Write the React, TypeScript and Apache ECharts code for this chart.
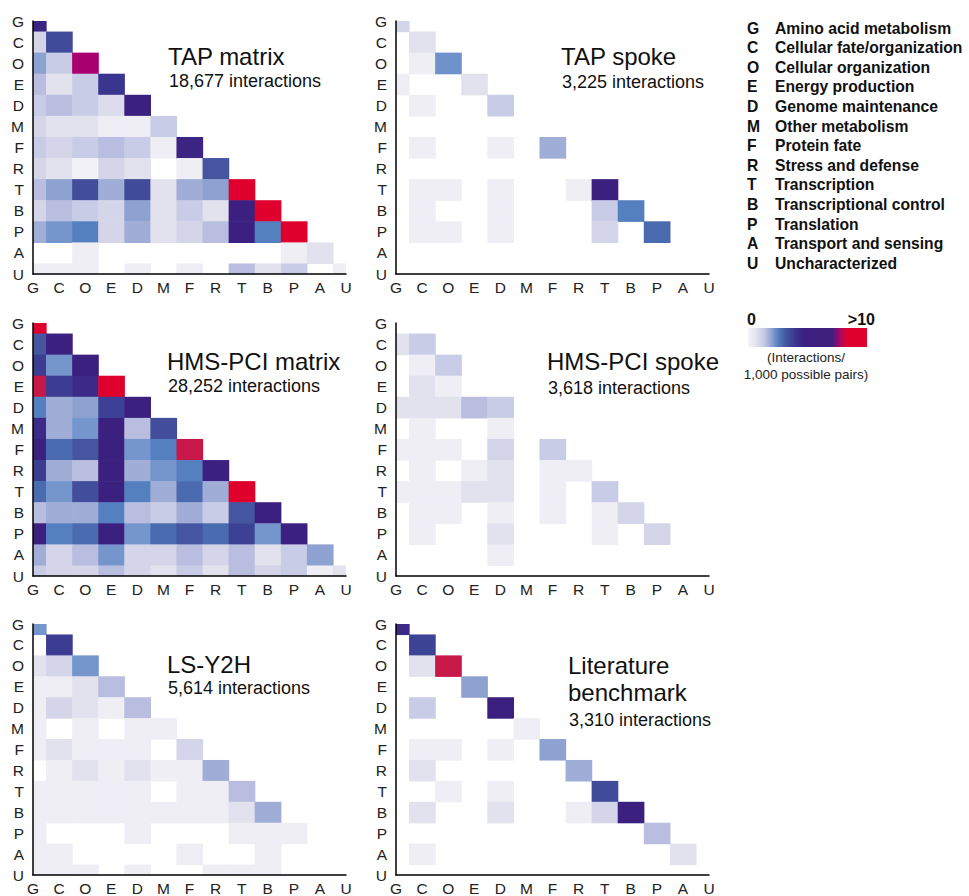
import React, { useEffect, useRef } from "react";
import * as echarts from "echarts";

const CATS = ["G", "C", "O", "E", "D", "M", "F", "R", "T", "B", "P", "A", "U"];
const CAT_NAMES = [
  "Amino acid metabolism",
  "Cellular fate/organization",
  "Cellular organization",
  "Energy production",
  "Genome maintenance",
  "Other metabolism",
  "Protein fate",
  "Stress and defense",
  "Transcription",
  "Transcriptional control",
  "Translation",
  "Transport and sensing",
  "Uncharacterized",
];

// interactions per 1,000 possible pairs (lower triangle, rows G..U)
const TAP_MATRIX = [
  [6.8],
  [1.5, 5.3],
  [3, 2, 9],
  [2.5, 1, 2, 6],
  [2, 2.5, 2, 1.2, 7],
  [1.5, 1, 1, 0.5, 0.5, 2],
  [2, 1.5, 2, 2.5, 2, 0.5, 6.8],
  [1.5, 1, 0.4, 1.5, 1, 0, 0.5, 5],
  [2.5, 3, 5.2, 2.8, 5.3, 1, 2.8, 3, 10],
  [1.5, 2.5, 2, 1.5, 3, 1, 2, 1, 7, 10],
  [2.8, 3.5, 4, 1.5, 2.8, 1, 1.5, 2.5, 7, 4, 10],
  [0, 0, 0.5, 0, 0, 0, 0, 0, 0, 0, 0.5, 1],
  [0.5, 0.5, 0.5, 0, 0.5, 0, 0.5, 0, 2.5, 1, 2, 0, 0.5],
];

const TAP_SPOKE = [
  [1.5],
  [0, 1],
  [0, 0.5, 3.6],
  [0.5, 0, 0, 1],
  [0, 0.5, 0, 0, 2],
  [0, 0, 0, 0, 0, 0],
  [0, 0.5, 0, 0, 0.5, 0, 2.8],
  [0, 0, 0, 0, 0, 0, 0, 0],
  [0, 0.5, 0.5, 0, 0.5, 0, 0, 0.5, 7],
  [0, 0.5, 0, 0, 0.5, 0, 0, 0, 2, 4],
  [0, 0.5, 0.5, 0, 0.5, 0, 0, 0, 1.5, 0, 4.5],
  [0, 0, 0, 0, 0, 0, 0, 0, 0, 0, 0, 0],
  [0, 0, 0, 0, 0, 0, 0, 0, 0, 0, 0, 0, 0],
];

const HMS_MATRIX = [
  [10],
  [5, 7],
  [5.8, 3.5, 7],
  [9.5, 5.8, 6.5, 10],
  [4, 2.8, 3, 5.6, 7],
  [6.5, 2.8, 3.5, 7, 2.5, 5.2],
  [7, 4.5, 5, 7, 3.5, 4, 9.5],
  [5.8, 2.8, 2.5, 7, 2.8, 3.5, 4, 7],
  [4.5, 3.5, 5.2, 7, 4, 2.8, 4.5, 2.8, 10],
  [2.5, 2.8, 2.8, 4, 2.5, 2, 2.8, 2, 5, 7],
  [7, 4, 4.5, 7, 3.5, 4.5, 5, 4.5, 5.6, 3.5, 7],
  [2.8, 1.5, 2.5, 3.5, 1.5, 1.5, 2.5, 1.5, 2.5, 1, 2, 3],
  [2, 1.5, 1.5, 2.5, 1.5, 1, 2, 1, 2.5, 1.5, 2, 0.5, 1],
];

const HMS_SPOKE = [
  [0],
  [1, 2],
  [0, 0.5, 2],
  [0, 1, 0.5, 0],
  [1, 1, 1, 2.5, 2],
  [0, 0.5, 0, 0, 0.5, 0],
  [0.5, 0.5, 0.5, 0, 1.5, 0, 2],
  [0, 0.5, 0, 0.5, 1, 0, 0.5, 0.5],
  [0.5, 0.5, 0.5, 1, 1, 0, 0.5, 0, 2],
  [0, 0.5, 0.5, 0, 0.5, 0, 0.5, 0, 0.5, 1.5],
  [0, 0.5, 0, 0, 1, 0, 0, 0, 0.5, 0, 1.5],
  [0, 0, 0, 0, 0.5, 0, 0, 0, 0, 0, 0, 0],
  [0, 0, 0, 0, 0, 0, 0, 0, 0, 0, 0, 0, 0],
];

const LS_Y2H = [
  [3.5],
  [0, 5.8],
  [1, 1.5, 3.5],
  [0.5, 0.5, 1, 2.5],
  [0.5, 1.5, 1, 0.5, 2.5],
  [0.5, 0, 0.5, 0, 0.5, 0.5],
  [0.5, 1, 0.5, 0.5, 0.5, 0, 1.5],
  [0, 0.5, 1, 0.5, 1, 0.5, 0.5, 2.8],
  [0.5, 0.5, 0.5, 0.5, 0.5, 0, 0.5, 0.5, 2.5],
  [0.5, 0.5, 0.5, 0.5, 0.5, 0.5, 0.5, 0.5, 1, 2.8],
  [0.5, 0, 0, 0, 0.5, 0, 0, 0, 0.5, 0.5, 0.5],
  [0.5, 0.5, 0, 0, 0, 0, 0.5, 0, 0, 0.5, 0, 0],
  [0.5, 0.5, 0.5, 0, 0.5, 0, 0, 0.5, 0.5, 0.5, 0, 0, 0],
];

const LITERATURE = [
  [6.5],
  [0, 5.5],
  [0, 1, 9.5],
  [0, 0, 0, 3],
  [0, 2, 0, 0, 7],
  [0, 0, 0, 0, 0, 0.5],
  [0, 0.5, 0.5, 0, 0.5, 0, 3],
  [0, 1, 0, 0, 0, 0, 0, 2.8],
  [0, 0, 0.5, 0, 0.5, 0, 0, 0, 5.3],
  [0, 1, 0, 0, 1, 0, 0, 0.5, 1.5, 7],
  [0, 0, 0, 0, 0, 0, 0, 0, 0, 0, 2.5],
  [0, 0.5, 0, 0, 0, 0, 0, 0, 0, 0, 0, 1],
  [0, 0, 0, 0, 0, 0, 0, 0, 0, 0, 0, 0, 0],
];

const PANEL_TITLES = [
  ["TAP matrix"],
  ["TAP spoke"],
  ["HMS-PCI matrix"],
  ["HMS-PCI spoke"],
  ["LS-Y2H"],
  ["Literature", "benchmark"],
];
const PANEL_COUNTS = [
  "18,677 interactions",
  "3,225 interactions",
  "28,252 interactions",
  "3,618 interactions",
  "5,614 interactions",
  "3,310 interactions",
];
const PANEL_DATA = [TAP_MATRIX, TAP_SPOKE, HMS_MATRIX, HMS_SPOKE, LS_Y2H, LITERATURE];

const SCALE_MIN_LABEL = "0";
const SCALE_MAX_LABEL = ">10";
const SCALE_UNIT = ["(Interactions/", "1,000 possible pairs)"];

const COLORS = [
  "#ffffff", "#efeef5", "#e2e1ee", "#d4d5e9", "#c8cce6", "#b9bddf",
  "#8ea2d2", "#7596cc", "#5580c0", "#4a6bb0", "#4555a0", "#3d4496",
  "#3a3690", "#3b2a88", "#3c2080", "#3f1e7e", "#5a1478", "#800c72",
  "#a8006e", "#c8184a", "#e0002e",
];

const FONT = "'Liberation Sans', Arial, Helvetica, sans-serif";

// panel layout (grid rects)
const GRIDS = [
  { left: 33, top: 21 },
  { left: 396, top: 21 },
  { left: 33, top: 323 },
  { left: 396, top: 323 },
  { left: 33, top: 624 },
  { left: 396, top: 624 },
];
const GW = 313;
const GH = 253;

const TITLE_POS = [
  { x: 168, y: 56, cy: 81 },
  { x: 561, y: 56, cy: 82 },
  { x: 167, y: 361, cy: 386 },
  { x: 547, y: 361, cy: 387.5 },
  { x: 167, y: 664, cy: 687.5 },
  { x: 568, y: 665, cy: 720 },
];

function toCells(matrix: number[][]) {
  const out: number[][] = [];
  matrix.forEach((row, r) => {
    row.forEach((v, c) => {
      if (v > 0) out.push([c, r, v]);
    });
  });
  return out;
}

export default function App() {
  const ref = useRef<HTMLDivElement>(null);

  useEffect(() => {
    if (!ref.current) return;
    const chart = echarts.init(ref.current, undefined, { renderer: "svg" });

    const grid = GRIDS.map((g) => ({ left: g.left, top: g.top, width: GW, height: GH, containLabel: false }));
    const xAxis = GRIDS.map((_, i) => ({
      type: "value",
      gridIndex: i,
      min: 0,
      max: 12,
      interval: 1,
      z: 5,
      axisLine: { show: true, onZero: false, lineStyle: { color: "#000", width: 1.5 } },
      axisTick: { show: false },
      splitLine: { show: false },
      axisLabel: {
        margin: 5,
        fontSize: 15.5,
        fontFamily: FONT,
        color: "#222",
        showMinLabel: true,
        showMaxLabel: true,
        formatter: (v: number) => CATS[Math.round(v)] ?? "",
      },
    }));
    const yAxis = GRIDS.map((_, i) => ({
      type: "value",
      gridIndex: i,
      min: 0,
      max: 12,
      interval: 1,
      inverse: true,
      z: 5,
      axisLine: { show: true, onZero: false, lineStyle: { color: "#000", width: 1.5 } },
      axisTick: { show: false },
      splitLine: { show: false },
      axisLabel: {
        margin: 9,
        fontSize: 15.5,
        fontFamily: FONT,
        color: "#222",
        showMinLabel: true,
        showMaxLabel: true,
        formatter: (v: number) => CATS[Math.round(v)] ?? "",
      },
    }));

    const series = PANEL_DATA.map((m, i) => ({
      type: "custom",
      xAxisIndex: i,
      yAxisIndex: i,
      z: 1,
      encode: { x: 0, y: 1 },
      data: toCells(m),
      renderItem: (params: any, api: any) => {
        const x = api.value(0);
        const y = api.value(1);
        const p1 = api.coord([x - 0.5, y - 0.5]);
        const p2 = api.coord([x + 0.5, y + 0.5]);
        const rect = {
          x: Math.min(p1[0], p2[0]),
          y: Math.min(p1[1], p2[1]),
          width: Math.abs(p2[0] - p1[0]) + 0.6,
          height: Math.abs(p2[1] - p1[1]) + 0.6,
        };
        const cs = params.coordSys;
        const clipped = echarts.graphic.clipRectByRect(rect, {
          x: cs.x,
          y: cs.y,
          width: cs.width,
          height: cs.height,
        });
        if (!clipped) return null;
        return { type: "rect", shape: clipped, style: { fill: api.visual("color") } };
      },
    }));

    const graphics: any[] = [];
    TITLE_POS.forEach((p, i) => {
      PANEL_TITLES[i].forEach((t, k) => {
        graphics.push({
          type: "text",
          x: p.x,
          y: p.y + k * 27.5,
          style: { text: t, fontSize: 24, fontFamily: FONT, fill: "#111", align: "left", verticalAlign: "middle" },
        });
      });
      graphics.push({
        type: "text",
        x: p.x + 1,
        y: p.cy,
        style: { text: PANEL_COUNTS[i], fontSize: 18, fontFamily: FONT, fill: "#111", align: "left", verticalAlign: "middle" },
      });
    });

    // category legend
    CATS.forEach((c, i) => {
      const y = 28 + i * 19.6;
      graphics.push({
        type: "text",
        x: 747,
        y,
        style: { text: c, fontSize: 15.7, fontWeight: "bold", fontFamily: FONT, fill: "#111", align: "left", verticalAlign: "middle" },
      });
      graphics.push({
        type: "text",
        x: 775,
        y,
        style: { text: CAT_NAMES[i], fontSize: 15.7, fontWeight: "bold", fontFamily: FONT, fill: "#111", align: "left", verticalAlign: "middle" },
      });
    });

    // colour scale legend
    graphics.push({
      type: "rect",
      shape: { x: 748, y: 328, width: 119, height: 19 },
      style: {
        fill: new echarts.graphic.LinearGradient(0, 0, 1, 0, [
          { offset: 0, color: "#f4f3f8" },
          { offset: 0.06, color: "#e6e5f0" },
          { offset: 0.13, color: "#c8cce6" },
          { offset: 0.2, color: "#8ea2d2" },
          { offset: 0.25, color: "#5580c0" },
          { offset: 0.32, color: "#4555a0" },
          { offset: 0.4, color: "#3a3690" },
          { offset: 0.47, color: "#3c2080" },
          { offset: 0.71, color: "#40207c" },
          { offset: 0.75, color: "#8a0a72" },
          { offset: 0.8, color: "#c0084c" },
          { offset: 0.83, color: "#e0002e" },
          { offset: 1, color: "#e0002e" },
        ]),
      },
    });
    graphics.push({
      type: "text",
      x: 747,
      y: 319,
      style: { text: SCALE_MIN_LABEL, fontSize: 16, fontWeight: "bold", fontFamily: FONT, fill: "#111", align: "left", verticalAlign: "middle" },
    });
    graphics.push({
      type: "text",
      x: 875,
      y: 319,
      style: { text: SCALE_MAX_LABEL, fontSize: 16, fontWeight: "bold", fontFamily: FONT, fill: "#111", align: "right", verticalAlign: "middle" },
    });
    SCALE_UNIT.forEach((t, k) => {
      graphics.push({
        type: "text",
        x: 806,
        y: 357.5 + k * 16.5,
        style: { text: t, fontSize: 13.5, fontFamily: FONT, fill: "#222", align: "center", verticalAlign: "middle" },
      });
    });

    chart.setOption({
      animation: false,
      backgroundColor: "#ffffff",
      grid,
      xAxis,
      yAxis,
      visualMap: {
        type: "continuous",
        show: false,
        min: 0,
        max: 10,
        dimension: 2,
        seriesIndex: [0, 1, 2, 3, 4, 5],
        inRange: { color: COLORS },
      },
      series,
      graphic: graphics,
    } as any);

    return () => chart.dispose();
  }, []);

  return (
    <div
      ref={ref}
      style={{ position: "fixed", left: 0, top: 0, width: 969, height: 896, background: "#fff" }}
    />
  );
}
